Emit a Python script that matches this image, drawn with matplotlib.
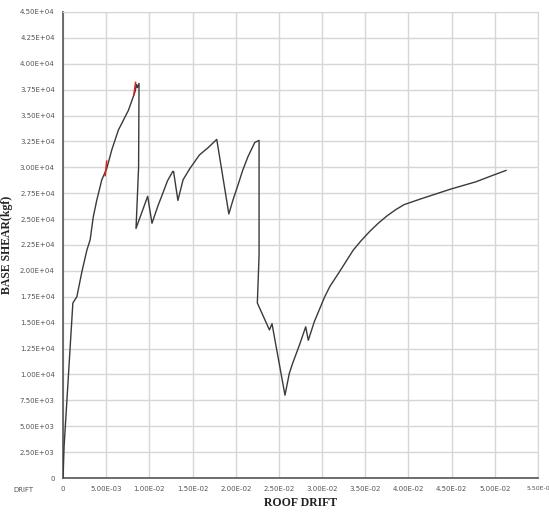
import matplotlib
matplotlib.use('Agg')
import matplotlib.pyplot as plt

# pushover curve: roof drift vs base shear (kgf)
drift = [0.0, 0.00012, 0.00045, 0.00083, 0.00114, 0.0016, 0.00218, 0.00276,
         0.00314, 0.0035, 0.0039, 0.00449, 0.00507, 0.00565, 0.00641, 0.00757,
         0.00834, 0.0085, 0.0086, 0.0088, 0.00875, 0.00855, 0.00845, 0.0098,
         0.0103, 0.0110, 0.0116, 0.0121, 0.0127, 0.0128, 0.0133, 0.0139,
         0.0147, 0.0158, 0.0168, 0.0178,
         0.0192, 0.0197, 0.0203, 0.0208, 0.0214, 0.0222, 0.0227, 0.0227,
         0.0225, 0.0239, 0.0242, 0.0245, 0.0257, 0.0262, 0.0266, 0.0274,
         0.0281, 0.0284, 0.0291, 0.0303, 0.0309, 0.0320, 0.0336, 0.0345,
         0.0355, 0.0365, 0.0375, 0.0385, 0.0395, 0.0416, 0.0449, 0.0478,
         0.0500, 0.0513]
shear = [0, 3000, 7500, 12700, 16900, 17500, 19900, 22000,
         23000, 25200, 26800, 28800, 29900, 31700, 33600, 35500,
         37300, 38000, 37700, 38100, 30000, 26000, 24100, 27200,
         24600, 26300, 27600, 28700, 29600, 29600, 26800, 28800,
         29900, 31200, 31900, 32700,
         25500, 26900, 28400, 29700, 31000, 32400, 32600, 21500,
         16900, 14300, 14900, 13500, 8000, 10100, 11100, 12900,
         14600, 13300, 15100, 17500, 18500, 19900, 22000, 22900,
         23800, 24600, 25300, 25900, 26400, 27000, 27900, 28600,
         29300, 29700]

# short red hinge marks along the curve
hinge1_x = [0.00488, 0.00506]
hinge1_y = [29200, 30600]
hinge2_x = [0.0082, 0.0084]
hinge2_y = [37000, 38200]

xticks = [0.0, 0.005, 0.01, 0.015, 0.02, 0.025, 0.03, 0.035, 0.04, 0.045, 0.05, 0.055]
xlabels = ['0', '5.00E-03', '1.00E-02', '1.50E-02', '2.00E-02', '2.50E-02',
           '3.00E-02', '3.50E-02', '4.00E-02', '4.50E-02', '5.00E-02', '5.50E-0']
yticks = [0, 2500, 5000, 7500, 10000, 12500, 15000, 17500, 20000, 22500,
          25000, 27500, 30000, 32500, 35000, 37500, 40000, 42500, 45000]
ylabels = ['0', '2.50E+03', '5.00E+03', '7.50E+03', '1.00E+04', '1.25E+04',
           '1.50E+04', '1.75E+04', '2.00E+04', '2.25E+04', '2.50E+04', '2.75E+04',
           '3.00E+04', '3.25E+04', '3.50E+04', '3.75E+04', '4.00E+04', '4.25E+04',
           '4.50E+04']

fig = plt.figure(figsize=(5.49, 5.12), dpi=100)
ax = fig.add_axes([0.1148, 0.0664, 0.8652, 0.9102])

ax.plot(drift, shear, color='#3a3a3a', lw=1.0, zorder=3)
ax.plot(hinge1_x, hinge1_y, color='#e0201a', lw=1.1, zorder=4)
ax.plot(hinge2_x, hinge2_y, color='#e0201a', lw=1.1, zorder=4)

ax.set_xlim(0, 0.055)
ax.set_ylim(0, 45000)
ax.set_xticks(xticks)
ax.set_xticklabels(xlabels)
ax.set_yticks(yticks)
ax.set_yticklabels(ylabels)
ax.tick_params(length=0, labelsize=5, colors='#555555', pad=6)
# last x label sits right at the figure edge
ax.get_xticklabels()[-1].set_fontsize(4.5)
ax.grid(True, color='#d6d6d6', lw=1.0)
ax.set_axisbelow(True)

for s in ['top', 'right']:
    ax.spines[s].set_color('#d6d6d6')
ax.spines['left'].set_color('#555555')
ax.spines['bottom'].set_color('#555555')
ax.spines['left'].set_linewidth(1.2)
ax.spines['bottom'].set_linewidth(1.2)

fig.text(0.042, 0.043, 'DRIFT', fontsize=5, color='#555555', ha='center', va='center')

ax.set_xlabel('ROOF DRIFT', family='Liberation Serif', fontweight='bold',
              fontsize=8.5, color='#222222', labelpad=3)
ax.set_ylabel('BASE SHEAR(kgf)', family='Liberation Serif', fontweight='bold',
              fontsize=8.5, color='#222222', labelpad=5)

fig.savefig('out.png', dpi=100)
